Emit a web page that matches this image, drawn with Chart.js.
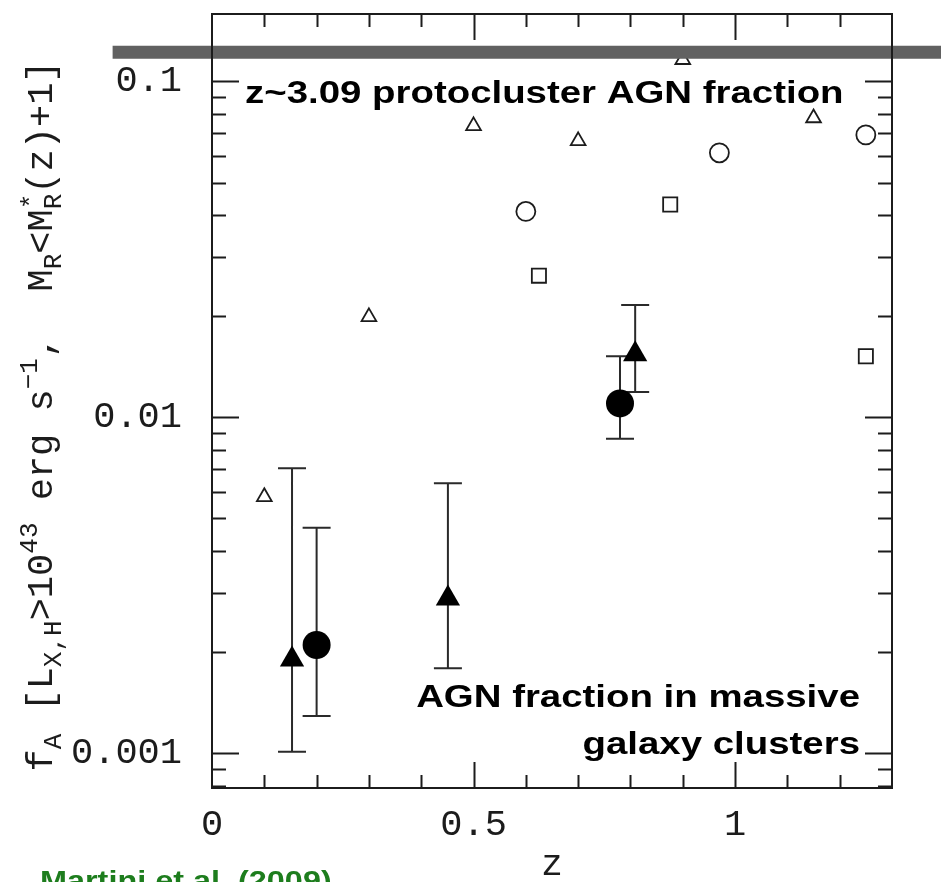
<!DOCTYPE html>
<html>
<head>
<meta charset="utf-8">
<script src="https://cdn.jsdelivr.net/npm/chart.js@4.4.1/dist/chart.umd.min.js"></script>
<style>
  html, body { margin: 0; padding: 0; background: #fff; }
  #wrap { width: 941px; height: 882px; position: relative; }
</style>
</head>
<body>
<div id="wrap"><canvas id="agnChart"></canvas></div>
<script>
// Open symbols (no error bars)
const openTriZ = [0.10, 0.30, 0.50, 0.70, 0.90, 1.15];
const openTriF = [0.0058, 0.0199, 0.0737, 0.0665, 0.116, 0.0778];
const openCircZ = [0.60, 0.97, 1.25];
const openCircF = [0.041, 0.0613, 0.0693];
const openSqZ = [0.625, 0.876, 1.25];
const openSqF = [0.0264, 0.043, 0.0152];

// Filled symbols with error bars
const fillCircZ = [0.20, 0.78];
const fillCircF = [0.0021, 0.011];
const fillCircLo = [0.00129, 0.00864];
const fillCircHi = [0.00469, 0.0152];
const fillTriZ = [0.153, 0.451, 0.809];
const fillTriF = [0.0019, 0.00289, 0.0154];
const fillTriLo = [0.00101, 0.00179, 0.0119];
const fillTriHi = [0.00705, 0.00636, 0.0216];

// protocluster level, drawn as a wide band
const protoZ = [-0.19, 1.40];
const protoF = [0.122, 0.122];

const xTicks = [0, 0.5, 1];
const yTicks = [0.001, 0.01, 0.1];

const protoLabel = 'z~3.09 protocluster AGN fraction';
const clusterLabel = ['AGN fraction in massive', 'galaxy clusters'];
const sourceLabel = 'Martini et al. (2009)';

// y title pieces: [text, kind] kind 0 = normal, -1 = subscript, 1 = superscript, 2 = stacked sup/sub
const yTitleParts = [
  ['f', 0], ['A', -1], [' [L', 0], ['X,H', -1], ['>10', 0], ['43', 1],
  [' erg s', 0], ['\u22121', 1], [',  M', 0], ['R', -1], ['<M', 0], ['*R', 2], ['(z)+1]', 0]
];

const MONO = '"Liberation Mono", "DejaVu Sans Mono", monospace';
const SANS_BOLD = 'bold 32px "Liberation Sans", Arial, sans-serif';
const INK = '#1c1c1c';

function pts(xs, ys) {
  return xs.map((x, i) => ({ x: x, y: ys[i] }));
}

// bold label, stretched a bit wider than the plain face
function wideText(ctx, text, x, y, align, stretch) {
  const w = ctx.measureText(text).width * stretch;
  const left = align === 'right' ? x - w : x;
  ctx.save();
  ctx.translate(left, y);
  ctx.scale(stretch, 1);
  ctx.textAlign = 'left';
  ctx.fillText(text, 0, 0);
  ctx.restore();
}

// vertical error bars with caps, drawn under the markers
const errorBars = {
  id: 'errorBars',
  beforeDatasetsDraw(chart) {
    const { ctx, scales: { x, y } } = chart;
    const sets = [
      [fillCircZ, fillCircLo, fillCircHi],
      [fillTriZ, fillTriLo, fillTriHi]
    ];
    ctx.save();
    ctx.strokeStyle = '#2a2a2a';
    ctx.lineWidth = 2;
    ctx.beginPath();
    sets.forEach(([zs, lo, hi]) => {
      zs.forEach((z, i) => {
        const px = x.getPixelForValue(z);
        const p1 = y.getPixelForValue(lo[i]);
        const p2 = y.getPixelForValue(hi[i]);
        ctx.moveTo(px, p1); ctx.lineTo(px, p2);
        ctx.moveTo(px - 14, p1); ctx.lineTo(px + 14, p1);
        ctx.moveTo(px - 14, p2); ctx.lineTo(px + 14, p2);
      });
    });
    ctx.stroke();
    ctx.restore();
  }
};

// box frame with inward ticks on all four sides
const frame = {
  id: 'frame',
  afterDatasetsDraw(chart) {
    const { ctx, chartArea: a, scales: { x, y } } = chart;
    ctx.save();
    ctx.strokeStyle = INK;
    ctx.lineWidth = 2;
    ctx.strokeRect(a.left, a.top, a.right - a.left, a.bottom - a.top);
    ctx.beginPath();
    for (let i = 1; i < 13; i++) {
      const px = Math.round(x.getPixelForValue(i / 10)) + 0.5;
      const len = i % 5 === 0 ? 26 : 13;
      ctx.moveTo(px, a.bottom); ctx.lineTo(px, a.bottom - len);
      ctx.moveTo(px, a.top); ctx.lineTo(px, a.top + len);
    }
    for (let e = -4; e <= 0; e++) {
      for (let k = 1; k <= 9; k++) {
        const v = k * Math.pow(10, e);
        if (v <= y.min || v >= y.max) continue;
        const py = Math.round(y.getPixelForValue(v)) + 0.5;
        const len = k === 1 ? 27 : 14;
        ctx.moveTo(a.left, py); ctx.lineTo(a.left + len, py);
        ctx.moveTo(a.right, py); ctx.lineTo(a.right - len, py);
      }
    }
    ctx.stroke();
    ctx.restore();
  }
};

// text labels and the rotated y title with sub/superscripts
const labels = {
  id: 'labels',
  afterDraw(chart) {
    const { ctx } = chart;
    ctx.save();
    ctx.fillStyle = '#000';
    ctx.font = SANS_BOLD;
    ctx.textBaseline = 'alphabetic';
    wideText(ctx, protoLabel, 245, 103, 'left', 1.2);
    wideText(ctx, clusterLabel[0], 860, 707, 'right', 1.2);
    wideText(ctx, clusterLabel[1], 860, 754, 'right', 1.2);

    ctx.fillStyle = '#1d7d1d';
    ctx.font = 'bold 27px "Liberation Sans", Arial, sans-serif';
    wideText(ctx, sourceLabel, 40, 890, 'left', 1.2);

    // y title
    const F = 37, S = 26;
    const big = F + 'px ' + MONO, small = S + 'px ' + MONO;
    const widthOf = ([t, k]) => {
      ctx.font = k === 0 ? big : small;
      if (k === 2) return Math.max(...t.split('').map(c => ctx.measureText(c).width));
      return ctx.measureText(t).width;
    };
    const total = yTitleParts.reduce((s, p) => s + widthOf(p), 0);
    ctx.translate(52, 416);
    ctx.rotate(-Math.PI / 2);
    ctx.fillStyle = INK;
    ctx.textAlign = 'left';
    let cx = -total / 2;
    yTitleParts.forEach(p => {
      const [t, k] = p;
      const w = widthOf(p);
      if (k === 0) {
        ctx.font = big; ctx.fillText(t, cx, 0);
      } else if (k === -1) {
        ctx.font = small; ctx.fillText(t, cx, 9);
      } else if (k === 1) {
        ctx.font = small; ctx.fillText(t, cx, -15);
      } else {
        ctx.font = small;
        ctx.fillText(t[0], cx, -13);
        ctx.fillText(t[1], cx, 9);
      }
      cx += w;
    });
    ctx.restore();
  }
};

const openStyle = {
  backgroundColor: 'rgba(255,255,255,0)',
  borderColor: INK,
  borderWidth: 1.8,
  order: 2
};

new Chart(document.getElementById('agnChart'), {
  type: 'scatter',
  data: {
    datasets: [
      Object.assign({ label: 'open triangles', data: pts(openTriZ, openTriF), pointStyle: 'triangle', pointRadius: 8.5 }, openStyle),
      Object.assign({ label: 'open circles', data: pts(openCircZ, openCircF), pointStyle: 'circle', pointRadius: 9.5 }, openStyle),
      Object.assign({ label: 'open squares', data: pts(openSqZ, openSqF), pointStyle: 'rect', pointRadius: 10 }, openStyle),
      {
        label: 'clusters (circles)',
        data: pts(fillCircZ, fillCircF),
        pointStyle: 'circle', pointRadius: 14,
        backgroundColor: '#000', borderColor: '#000', borderWidth: 0,
        order: 1
      },
      {
        label: 'clusters (triangles)',
        data: pts(fillTriZ, fillTriF),
        pointStyle: 'triangle', pointRadius: 14,
        backgroundColor: '#000', borderColor: '#000', borderWidth: 0,
        order: 1
      },
      {
        label: 'protocluster',
        data: pts(protoZ, protoF),
        showLine: true,
        borderColor: '#616161',
        borderWidth: 13,
        pointRadius: 0,
        clip: false,
        order: 0
      }
    ]
  },
  options: {
    responsive: true,
    maintainAspectRatio: false,
    animation: false,
    layout: { padding: { top: 8, right: 49, left: 0, bottom: 0 } },
    plugins: {
      legend: { display: false },
      tooltip: { enabled: false }
    },
    scales: {
      x: {
        type: 'linear',
        min: 0,
        max: 1.3,
        bounds: 'data',
        grid: { display: false },
        border: { display: false },
        afterBuildTicks: s => { s.ticks = xTicks.map(v => ({ value: v })); },
        afterFit: s => { s.height = 94; s.paddingLeft = 0; s.paddingRight = 0; },
        ticks: {
          padding: 7,
          color: INK,
          font: { family: MONO, size: 37 },
          callback: v => String(v)
        },
        title: {
          display: true,
          text: 'z',
          color: INK,
          font: { family: MONO, size: 36, lineHeight: 0.9 },
          padding: { top: 0, bottom: 0 }
        }
      },
      y: {
        type: 'logarithmic',
        min: 0.000788,
        max: 0.1587,
        bounds: 'data',
        grid: { display: false },
        border: { display: false },
        afterBuildTicks: s => { s.ticks = yTicks.map(v => ({ value: v })); },
        afterFit: s => { s.width = 212; s.paddingTop = 0; s.paddingBottom = 0; },
        ticks: {
          padding: 22,
          color: INK,
          font: { family: MONO, size: 37 },
          callback: v => String(v)
        }
      }
    }
  },
  plugins: [errorBars, frame, labels]
});
</script>
</body>
</html>
